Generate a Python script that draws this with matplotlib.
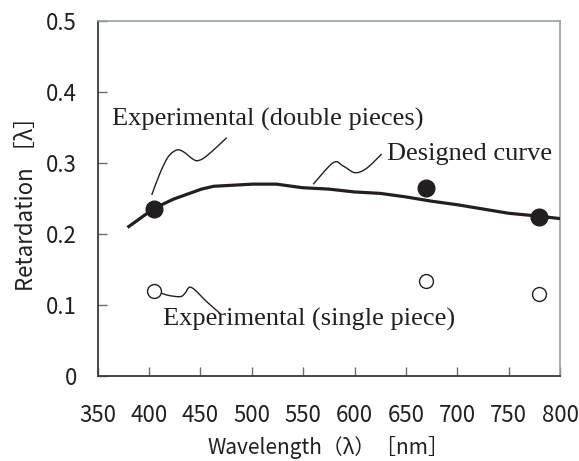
import numpy as np
import matplotlib
matplotlib.use("Agg")
import matplotlib.pyplot as plt
from matplotlib.path import Path
from matplotlib.patches import PathPatch

# ---- data ----
curve_wl = [379, 405, 424, 451, 463, 501, 524, 549, 575, 600, 625, 650, 675, 700, 725, 750, 779, 800]
curve_ret = [0.209, 0.236, 0.249, 0.263, 0.267, 0.270, 0.270, 0.265, 0.263, 0.259, 0.257, 0.252,
             0.246, 0.241, 0.235, 0.229, 0.225, 0.2215]

double_wl = [405, 670, 780]
double_ret = [0.235, 0.265, 0.224]

single_wl = [405, 670, 780]
single_ret = [0.120, 0.133, 0.115]

xticks = [350, 400, 450, 500, 550, 600, 650, 700, 750, 800]
yticks = [0, 0.1, 0.2, 0.3, 0.4, 0.5]
ytick_labels = ["0", "0.1", "0.2", "0.3", "0.4", "0.5"]

label_double = "Experimental (double pieces)"
label_designed = "Designed curve"
label_single = "Experimental (single piece)"

# leader line waypoints (annotation squiggles)
lead_double_x = [402.6, 410.7, 418.8, 427.0, 433.4, 441.6, 446.4, 452.9, 462.7, 475.6]
lead_double_y = [0.2547, 0.2855, 0.3088, 0.3180, 0.3156, 0.3063, 0.3030, 0.3063, 0.3180, 0.3354]
lead_design_x = [559.8, 579.3, 589.0, 600.4, 611.8, 626.4]
lead_design_y = [0.2698, 0.3002, 0.2955, 0.2861, 0.2923, 0.3124]
lead_single_x = [405.8, 417.2, 430.1, 435.0, 439.2, 444.7, 456.1, 469.0]
lead_single_y = [0.1200, 0.1140, 0.1116, 0.1164, 0.1248, 0.1210, 0.1046, 0.0882]

ink = "#231f20"

fig = plt.figure(figsize=(5.79, 4.61), dpi=100)
ax = fig.add_axes([0.1687, 0.1844, 0.7985, 0.7707])


def smooth_path(ax, xs, ys, **kw):
    # Catmull-Rom -> cubic Bezier in display space for smooth squiggles
    pts = ax.transData.transform(np.column_stack([xs, ys]))
    n = len(pts)
    verts = [pts[0]]
    codes = [Path.MOVETO]
    for i in range(n - 1):
        p0 = pts[i - 1] if i > 0 else pts[i]
        p1 = pts[i]
        p2 = pts[i + 1]
        p3 = pts[i + 2] if i + 2 < n else pts[i + 1]
        c1 = p1 + (p2 - p0) / 6.0
        c2 = p2 - (p3 - p1) / 6.0
        verts += [c1, c2, p2]
        codes += [Path.CURVE4] * 3
    path = Path(verts, codes)
    patch = PathPatch(path, transform=None, fill=False, **kw)
    ax.add_artist(patch)


ax.set_xlim(350, 800)
ax.set_ylim(0, 0.5)

ax.plot(curve_wl, curve_ret, color=ink, lw=2.3, solid_capstyle="butt", zorder=3)
ax.plot(double_wl, double_ret, "o", ms=12, color=ink, zorder=4)
ax.plot(single_wl, single_ret, "o", ms=10, mfc="white", mec=ink, mew=1.0, zorder=4)

smooth_path(ax, lead_double_x, lead_double_y, color=ink, lw=1.0, zorder=2)
smooth_path(ax, lead_design_x, lead_design_y, color=ink, lw=1.0, zorder=2)
smooth_path(ax, lead_single_x, lead_single_y, color=ink, lw=1.0, zorder=2)

serif = ["Liberation Serif", "DejaVu Serif"]
ax.text(364.2, 0.353, label_double, family=serif, fontsize=19, color=ink, ha="left", va="baseline")
ax.text(631.3, 0.304, label_designed, family=serif, fontsize=19, color=ink, ha="left", va="baseline")
ax.text(413.3, 0.0708, label_single, family=serif, fontsize=19, color=ink, ha="left", va="baseline")

gothic = ["Noto Sans CJK JP", "DejaVu Sans"]
ax.set_xticks(xticks)
ax.set_xticklabels([str(v) for v in xticks], family=gothic, fontsize=16, color=ink)
ax.set_yticks(yticks)
ax.set_yticklabels(ytick_labels, family=gothic, fontsize=16, color=ink)
ax.tick_params(axis="both", direction="in", length=6.5, width=1.0, colors="#6e6e6e",
               labelcolor=ink)
ax.tick_params(axis="x", pad=20)
ax.tick_params(axis="y", pad=15)

ax.set_xlabel("Wavelength（λ）［nm］", family=gothic, fontsize=15, color=ink, labelpad=7)
ax.set_ylabel("Retardation ［λ］", family=gothic, fontsize=16, color=ink, labelpad=6)

for s in ["left", "bottom"]:
    ax.spines[s].set_color("#3a3a3a")
    ax.spines[s].set_linewidth(1.3)
for s in ["top", "right"]:
    ax.spines[s].set_color("#9aa0a6")
    ax.spines[s].set_linewidth(1.2)

fig.savefig("out.png", dpi=100)
